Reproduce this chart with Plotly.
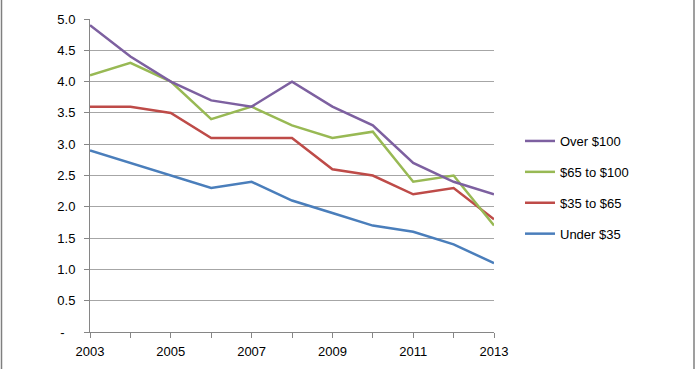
import plotly.graph_objects as go

years = list(range(2003, 2014))
under_35 = [2.9, 2.7, 2.5, 2.3, 2.4, 2.1, 1.9, 1.7, 1.6, 1.4, 1.1]
from_35_to_65 = [3.6, 3.6, 3.5, 3.1, 3.1, 3.1, 2.6, 2.5, 2.2, 2.3, 1.8]
from_65_to_100 = [4.1, 4.3, 4.0, 3.4, 3.6, 3.3, 3.1, 3.2, 2.4, 2.5, 1.7]
over_100 = [4.9, 4.4, 4.0, 3.7, 3.6, 4.0, 3.6, 3.3, 2.7, 2.4, 2.2]

series_names = ["Under $35", "$35 to $65", "$65 to $100", "Over $100"]
series_values = [under_35, from_35_to_65, from_65_to_100, over_100]
series_colors = ["#4A7EBB", "#BE4B48", "#98B954", "#7D60A0"]
legend_ranks = [4, 3, 2, 1]

x_tick_labels = [str(y) if (y - 2003) % 2 == 0 else "" for y in years]
y_tick_vals = [i * 0.5 for i in range(11)]
y_tick_labels = ["-\u00a0\u00a0\u00a0"] + [f"{v:.1f}" for v in y_tick_vals[1:]]

W, H = 696, 369
L, R, T, B = 90, 202, 19, 37

fig = go.Figure()
for name, vals, col, rk in zip(series_names, series_values, series_colors, legend_ranks):
    fig.add_trace(go.Scatter(x=years, y=vals, name=name, mode="lines",
                             line=dict(color=col, width=2.5), legendgroup=name, legendrank=rk))

pw = W - L - R
def px_to_paper(px):
    return (px - L) / pw

fig.update_layout(
    width=W, height=H,
    margin=dict(l=L, r=R, t=T, b=B, autoexpand=False),
    paper_bgcolor="white", plot_bgcolor="white",
    font=dict(family="Liberation Sans, Arial, sans-serif", size=13, color="#000000"),
    showlegend=True,
    legend=dict(x=px_to_paper(520), y=(H - B - 126) / (H - T - B), xanchor="left", yanchor="top",
                traceorder="grouped", tracegroupgap=11,
                font=dict(size=13), bgcolor="rgba(0,0,0,0)"),
    xaxis=dict(range=[2003, 2013], tickvals=years, ticktext=x_tick_labels,
               showgrid=False, zeroline=False, showline=True, linecolor="#868686", linewidth=1,
               ticks="outside", ticklen=5, tickcolor="#868686", tickfont=dict(size=13),
               ticklabelstandoff=2, automargin=False),
    yaxis=dict(range=[0, 5], tickvals=y_tick_vals, ticktext=y_tick_labels,
               showgrid=True, gridcolor="#A6A6A6", gridwidth=1, zeroline=False,
               showline=True, linecolor="#868686", linewidth=1,
               ticks="outside", ticklen=5, tickcolor="#868686", tickfont=dict(size=13),
               ticklabelstandoff=6, automargin=False),
    shapes=[
        dict(type="line", xref="paper", yref="paper", x0=px_to_paper(1.5), x1=px_to_paper(1.5),
             y0=-1, y1=2, line=dict(color="#7F7F7F", width=1.5)),
        dict(type="line", xref="paper", yref="paper", x0=px_to_paper(694), x1=px_to_paper(694),
             y0=-1, y1=2, line=dict(color="#7F7F7F", width=1.5)),
    ],
)

fig.write_html("out.html")
